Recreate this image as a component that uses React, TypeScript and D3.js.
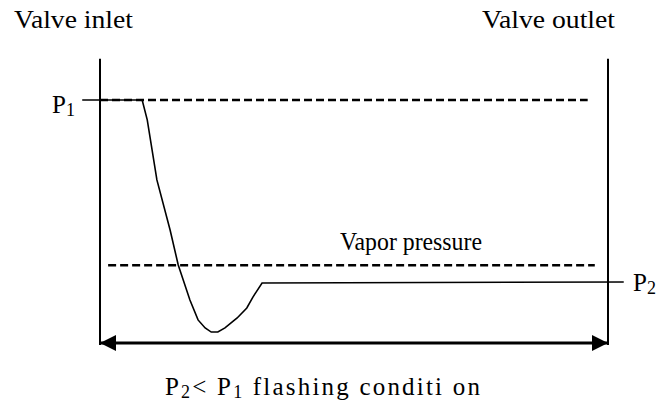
import React from 'react';
import * as d3 from 'd3';

// position along the valve (0 = inlet, 100 = outlet), pressure (0 = arrow baseline, 100 = P1)
const curvePos = [-3.5, 8.3, 9.3, 11.2, 13.8, 15.4, 17.7, 19.3, 20.7, 21.9, 23.2, 24.6, 27.0, 28.9, 30.1, 31.9, 103.1];
const curvePress = [100, 100, 91.8, 67.1, 46.5, 32.1, 17.7, 9.5, 6.2, 4.5, 4.5, 6.2, 10.3, 14.4, 18.9, 24.7, 25.1];

const P1 = 100;
const VAPOR = 32;
const P2 = 25.1;
const p1Span = [0, 96];
const vaporSpan = [1.6, 97.4];
const wallTop = 117;
const wallBottom = -0.8;

const W = 656;
const H = 403;
const FONT = '"Liberation Serif", "Times New Roman", serif';

export default function App() {
	const x = d3.scaleLinear().domain([0, 100]).range([100, 608]);
	const y = d3.scaleLinear().domain([0, 100]).range([343, 100]);

	const pts: [number, number][] = curvePos.map((p, i) => [p, curvePress[i]]);
	const line = d3.line<[number, number]>()
		.x(d => x(d[0]))
		.y(d => y(d[1]));

	return (
		<svg width={W} height={H} style={{ position: 'absolute', left: 0, top: 0, background: '#fff' }}>
			<defs>
				<marker id="head" viewBox="0 0 16 16" refX="15" refY="8" markerWidth="16" markerHeight="16"
					markerUnits="userSpaceOnUse" orient="auto-start-reverse">
					<path d="M0,0 L16,8 L0,16 Z" fill="#000" />
				</marker>
			</defs>

			<text x={14} y={28} fontFamily={FONT} fontSize={25} textLength={119} lengthAdjust="spacingAndGlyphs">Valve inlet</text>
			<text x={482} y={28} fontFamily={FONT} fontSize={25} textLength={133} lengthAdjust="spacingAndGlyphs">Valve outlet</text>

			{/* valve walls */}
			<line x1={x(0)} x2={x(0)} y1={y(wallTop)} y2={y(wallBottom)} stroke="#000" strokeWidth={2} />
			<line x1={x(100)} x2={x(100)} y1={y(wallTop)} y2={y(wallBottom)} stroke="#000" strokeWidth={2} />

			{/* P1 and vapor pressure dashed levels */}
			<line x1={x(p1Span[0])} x2={x(p1Span[1])} y1={y(P1)} y2={y(P1)} stroke="#000" strokeWidth={2.5} strokeDasharray="8 4" />
			<line x1={x(vaporSpan[0])} x2={x(vaporSpan[1])} y1={y(VAPOR)} y2={y(VAPOR)} stroke="#000" strokeWidth={2.5} strokeDasharray="8 4" />

			{/* pressure curve */}
			<path d={line(pts) || ''} fill="none" stroke="#000" strokeWidth={1.6} />

			{/* double arrow */}
			<line x1={x(0) + 1} x2={x(100) - 1} y1={y(0)} y2={y(0)} stroke="#000" strokeWidth={3}
				markerStart="url(#head)" markerEnd="url(#head)" />

			<text x={340} y={250} fontFamily={FONT} fontSize={25} textLength={142} lengthAdjust="spacingAndGlyphs">Vapor pressure</text>

			<text x={52} y={113} fontFamily={FONT} fontSize={25}>P<tspan fontSize={18} dy={3}>1</tspan></text>
			<text x={633} y={y(P2) + 9} fontFamily={FONT} fontSize={25}>P<tspan fontSize={18} dy={3}>2</tspan></text>

			<text x={165} y={395} fontFamily={FONT} fontSize={25} letterSpacing={2.2}>
				P<tspan fontSize={18} dy={3}>2</tspan><tspan dy={-3}>&lt; P</tspan><tspan fontSize={18} dy={3}>1</tspan><tspan dy={-3}> flashing conditi on</tspan>
			</text>
		</svg>
	);
}
